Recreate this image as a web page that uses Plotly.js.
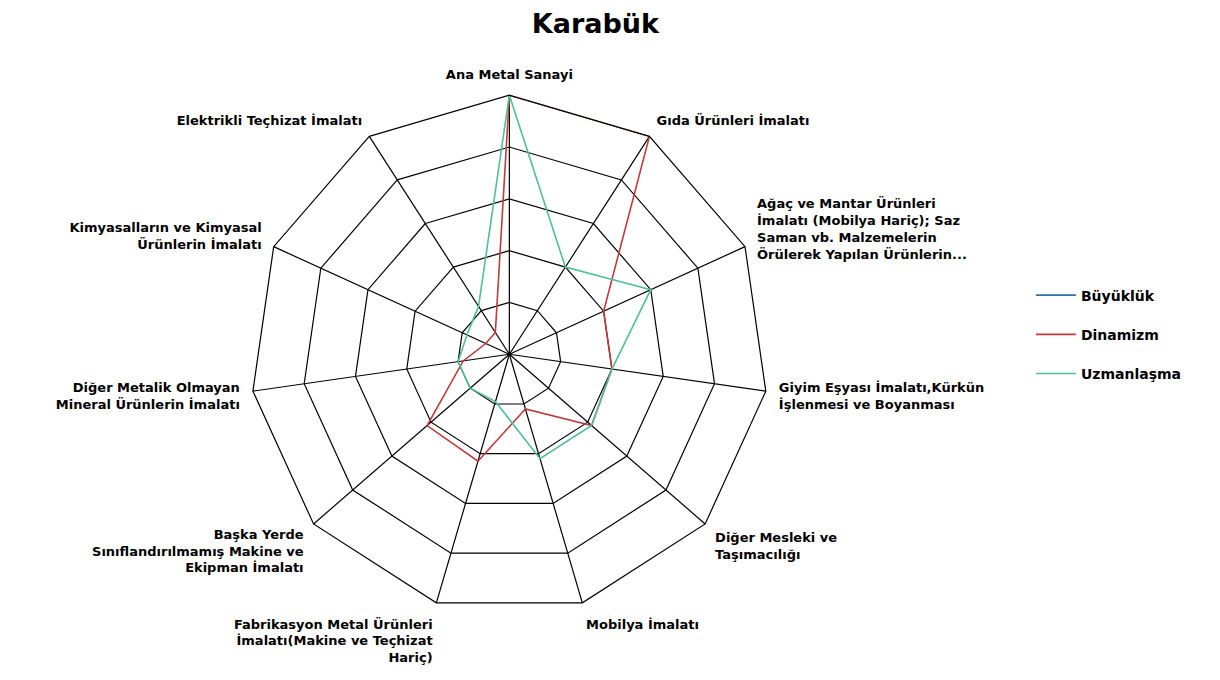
<!DOCTYPE html>
<html>
<head>
<meta charset="utf-8">
<script src="https://cdn.plot.ly/plotly-3.0.1.min.js"></script>
<style>
  html, body { margin: 0; padding: 0; background: #fff; }
  #chart { width: 1220px; height: 680px; }
</style>
</head>
<body>
<div id="chart"></div>
<script>
// Karabük sektör radar grafiği
const categories = [
  "Ana Metal Sanayi",
  "Gıda Ürünleri İmalatı",
  "Ağaç ve Mantar Ürünleri<br>İmalatı (Mobilya Hariç); Saz<br>Saman vb. Malzemelerin<br>Örülerek Yapılan Ürünlerin...",
  "Giyim Eşyası İmalatı,Kürkün<br>İşlenmesi ve Boyanması",
  "Diğer Mesleki ve<br>Taşımacılığı",
  "Mobilya İmalatı",
  "Fabrikasyon Metal Ürünleri<br>İmalatı(Makine ve Teçhizat<br>Hariç)",
  "Başka Yerde<br>Sınıflandırılmamış Makine ve<br>Ekipman İmalatı",
  "Diğer Metalik Olmayan<br>Mineral Ürünlerin İmalatı",
  "Kimyasalların ve Kimyasal<br>Ürünlerin İmalatı",
  "Elektrikli Teçhizat İmalatı"
];

const seriesNames = ["Büyüklük", "Dinamizm", "Uzmanlaşma"];
const buyukluk   = [0, 0, 0, 0, 0, 0, 0, 0, 0, 0, 0];
const dinamizm   = [1.0, 1.0, 0.40, 0.40, 0.42, 0.22, 0.43, 0.42, 0.18, 0.10, 0.10];
const uzmanlasma = [1.0, 0.40, 0.60, 0.40, 0.42, 0.42, 0.19, 0.20, 0.20, 0.18, 0.22];
const seriesColors = ["#2a6fb0", "#c0393b", "#4fbf98"];

function closeLoop(arr) { return arr.concat([arr[0]]); }

const allValues = [buyukluk, dinamizm, uzmanlasma];
const traces = allValues.map((vals, i) => ({
  type: "scatterpolar",
  mode: "lines",
  r: closeLoop(vals),
  theta: closeLoop(categories),
  name: seriesNames[i],
  legendgroup: "g" + i,
  line: { color: seriesColors[i], width: 1.6 },
  hoverinfo: "skip"
}));

const labelFont = "DejaVu Sans, Liberation Sans, sans-serif";

const layout = {
  width: 1220,
  height: 680,
  margin: { l: 0, r: 0, t: 0, b: 0 },
  paper_bgcolor: "#ffffff",
  plot_bgcolor: "#ffffff",
  font: { family: labelFont, color: "#000" },
  title: {
    text: "<b>Karabük</b>",
    x: 0.488, xanchor: "center",
    y: 0.965, yanchor: "middle",
    font: { size: 27, family: labelFont, color: "#000" }
  },
  polar: {
    domain: { x: [0.205, 0.630], y: [0.098, 0.860] },
    bgcolor: "#ffffff",
    gridshape: "linear",
    radialaxis: {
      range: [0, 1],
      dtick: 0.2,
      showticklabels: false,
      ticks: "",
      showline: false,
      gridcolor: "#000",
      gridwidth: 1.2
    },
    angularaxis: {
      direction: "clockwise",
      rotation: 90,
      linecolor: "#000",
      linewidth: 1.2,
      gridcolor: "#000",
      gridwidth: 1.2,
      ticks: "outside",
      ticklen: 10,
      tickcolor: "rgba(255,255,255,0)",
      tickfont: { size: 13, family: labelFont, color: "#000", weight: "bold" }
    }
  },
  showlegend: true,
  legend: {
    x: 0.845, xanchor: "left",
    y: 0.508, yanchor: "middle",
    tracegroupgap: 18,
    itemwidth: 40,
    font: { size: 14, family: labelFont, color: "#000", weight: "bold" },
    bgcolor: "rgba(0,0,0,0)"
  }
};

Plotly.newPlot("chart", traces, layout, { displayModeBar: false, staticPlot: true });
</script>
</body>
</html>
